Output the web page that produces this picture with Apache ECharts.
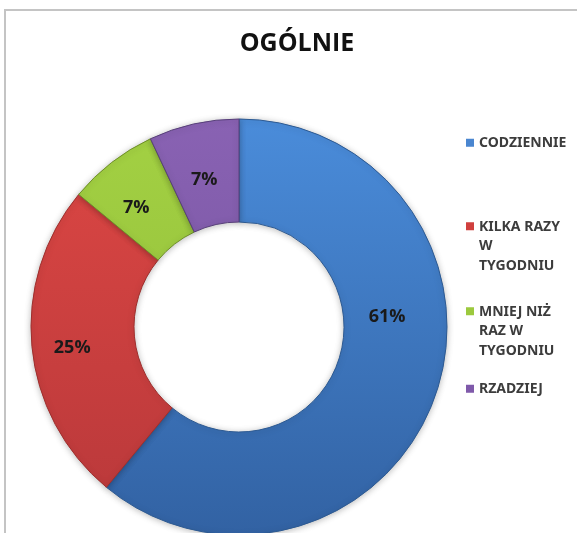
<!DOCTYPE html>
<html>
<head>
<meta charset="utf-8">
<script src="https://cdn.jsdelivr.net/npm/echarts@6/dist/echarts.min.js"></script>
<style>html,body{margin:0;padding:0;background:#fff;}#c{width:577px;height:533px;}</style>
</head>
<body>
<div id="c"></div>
<script>
const title = "OGÓLNIE";
const categories = ["CODZIENNIE", "KILKA RAZY W TYGODNIU", "MNIEJ NIŻ RAZ W TYGODNIU", "RZADZIEJ"];
const legendLabels = ["CODZIENNIE", "KILKA RAZY\nW\nTYGODNIU", "MNIEJ NIŻ\nRAZ W\nTYGODNIU", "RZADZIEJ"];
const values = [61, 25, 7, 7];
const percentLabels = ["61%", "25%", "7%", "7%"];

const topColors = ["#4a8cda", "#dd4744", "#a3d143", "#8962b3"];
const bottomColors = ["#3262a3", "#b8383a", "#8fb938", "#70509a"];
const borderColors = ["#2d5a92", "#9e2f2d", "#6f8f2a", "#58407a"];
const legendColors = ["#4a86d0", "#d0403e", "#9cc93e", "#7f59aa"];
const legendTops = [133, 217, 302, 379];
const labelOffsets = [[-2, -64], [-8, 6], [-5, 7], [0, 9]];

const chart = echarts.init(document.getElementById('c'));

const grad = (i) => new echarts.graphic.LinearGradient(0, 119, 0, 535, [
  { offset: 0, color: topColors[i] },
  { offset: 1, color: bottomColors[i] }
], true);

const data = categories.map((name, i) => ({
  name: name,
  value: values[i],
  itemStyle: { color: grad(i), borderColor: borderColors[i], borderWidth: 1 },
  label: { offset: labelOffsets[i], formatter: percentLabels[i] }
}));

// icon: small square at the top of a tall (invisible) box so it lines up with the first text line
const tallIcon = 'path://M0,0L8,0L8,8L0,8ZM0,48L8,48';

const legends = categories.map((name, i) => {
  const multi = legendLabels[i].indexOf('\n') >= 0;
  return {
    data: [{ name: name, icon: multi ? tallIcon : 'rect',
             itemStyle: { color: legendColors[i], borderWidth: 0 } }],
    orient: 'vertical',
    left: 466,
    top: legendTops[i],
    padding: 0,
    itemWidth: 8,
    itemHeight: multi ? 48 : 8,
    selectedMode: false,
    formatter: () => legendLabels[i],
    textStyle: {
      fontFamily: 'Noto Sans',
      fontWeight: 'bold',
      fontSize: 14,
      color: '#3c3c3c',
      lineHeight: 19.5
    }
  };
});

chart.setOption({
  backgroundColor: '#ffffff',
  animation: false,
  title: {
    text: title,
    left: 292,
    textAlign: 'center',
    top: 26,
    textStyle: { fontFamily: 'Open Sans', fontWeight: 'bold', fontSize: 25, color: '#111' }
  },
  graphic: [{
    type: 'rect',
    shape: { x: 5, y: 10, width: 600, height: 600 },
    style: { fill: 'none', stroke: '#c4c4c4', lineWidth: 2 },
    z: 10
  }],
  legend: legends,
  series: [{
    type: 'pie',
    center: [239, 327],
    radius: [105, 208],
    startAngle: 90,
    clockwise: true,
    avoidLabelOverlap: false,
    label: {
      show: true,
      position: 'inside',
      fontFamily: 'Open Sans',
      fontWeight: 'bold',
      fontSize: 18,
      color: '#1a1a1a'
    },
    labelLine: { show: false },
    emphasis: { disabled: true },
    itemStyle: { shadowBlur: 6, shadowColor: 'rgba(0,0,0,0.25)', shadowOffsetY: 1 },
    data: data
  }]
});
</script>
</body>
</html>
